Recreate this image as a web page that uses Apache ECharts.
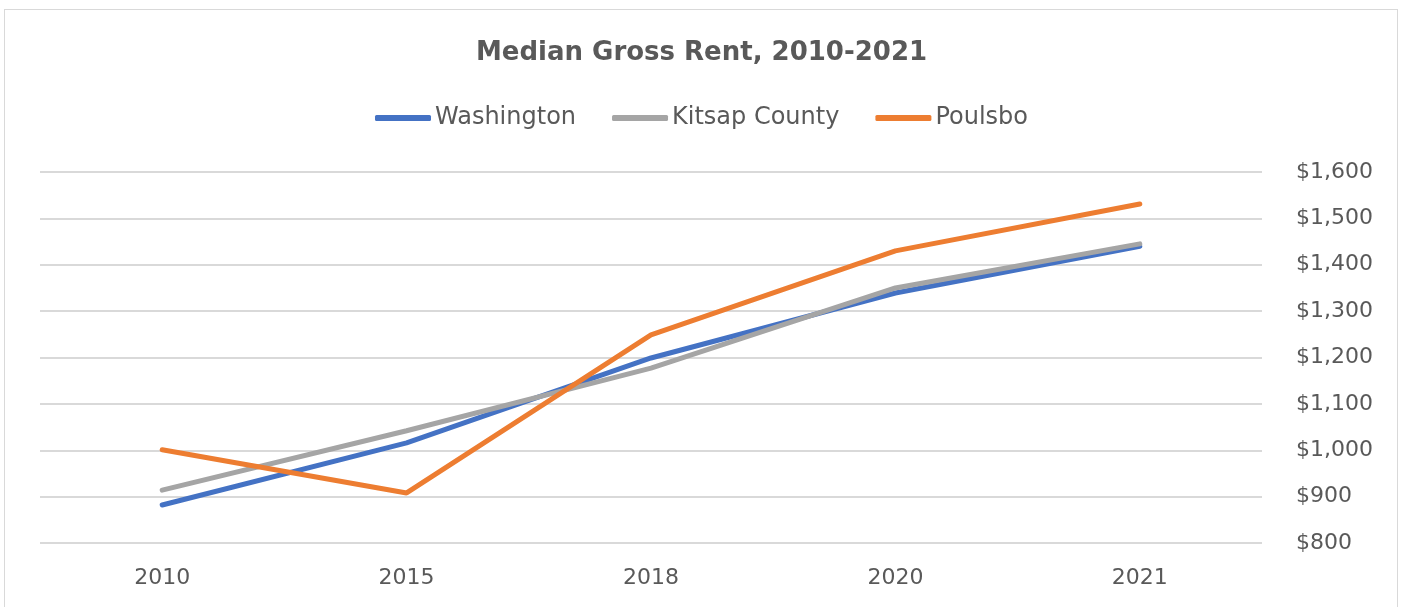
<!DOCTYPE html>
<html>
<head>
<meta charset="utf-8">
<script src="https://cdn.jsdelivr.net/npm/echarts@6/dist/echarts.min.js"></script>
<style>
  html, body { margin: 0; padding: 0; background: #ffffff; }
  #frame {
    position: absolute; left: 4px; top: 9px; width: 1394px; height: 620px;
    border: 1px solid #d9d9d9; box-sizing: border-box;
  }
  #chart { position: absolute; left: 0; top: 0; width: 1403px; height: 607px; }
</style>
</head>
<body>
<div id="frame"></div>
<div id="chart"></div>
<script>
  // categories / values
  const years = ['2010', '2015', '2018', '2020', '2021'];
  const washington = [882, 1016, 1199, 1339, 1440];
  const kitsap = [914, 1042, 1177, 1350, 1445];
  const poulsbo = [1001, 908, 1249, 1430, 1531];

  const fontFam = '"DejaVu Sans", sans-serif';
  const txt = '#595959';

  const myEcharts = echarts.init(document.getElementById('chart'));

  function line(name, data, color) {
    return {
      name: name,
      type: 'line',
      data: data,
      symbol: 'none',
      lineStyle: { width: 5, color: color, cap: 'round' },
      itemStyle: { color: color },
      z: 3
    };
  }

  let option = {
    backgroundColor: 'transparent',
    animation: false,
    title: {
      text: 'Median Gross Rent, 2010-2021',
      left: 'center',
      top: 35,
      textStyle: { fontFamily: fontFam, fontSize: 26, fontWeight: 'bold', color: txt }
    },
    legend: {
      top: 101,
      left: 'center',
      icon: 'roundRect',
      itemWidth: 56,
      itemHeight: 6,
      itemGap: 36,
      textStyle: { fontFamily: fontFam, fontSize: 24, color: txt, padding: [0, 0, 0, -1] },
      data: ['Washington', 'Kitsap County', 'Poulsbo']
    },
    grid: {
      left: 40,
      right: 141,
      top: 172,
      bottom: 64
    },
    xAxis: {
      type: 'category',
      data: years,
      boundaryGap: true,
      axisLine: { show: false },
      axisTick: { show: false },
      axisLabel: { fontFamily: fontFam, fontSize: 22, color: txt, margin: 24 }
    },
    yAxis: {
      type: 'value',
      position: 'right',
      min: 800,
      max: 1600,
      interval: 100,
      axisLine: { show: false },
      axisTick: { show: false },
      splitLine: { lineStyle: { color: '#d9d9d9', width: 2 } },
      axisLabel: {
        fontFamily: fontFam, fontSize: 22, color: txt, margin: 34, align: 'left',
        formatter: v => '$' + v.toLocaleString('en-US')
      }
    },
    series: [
      line('Washington', washington, '#4472C4'),
      line('Kitsap County', kitsap, '#A5A5A5'),
      line('Poulsbo', poulsbo, '#ED7D31')
    ]
  };
  myEcharts.setOption(option);
</script>
</body>
</html>
